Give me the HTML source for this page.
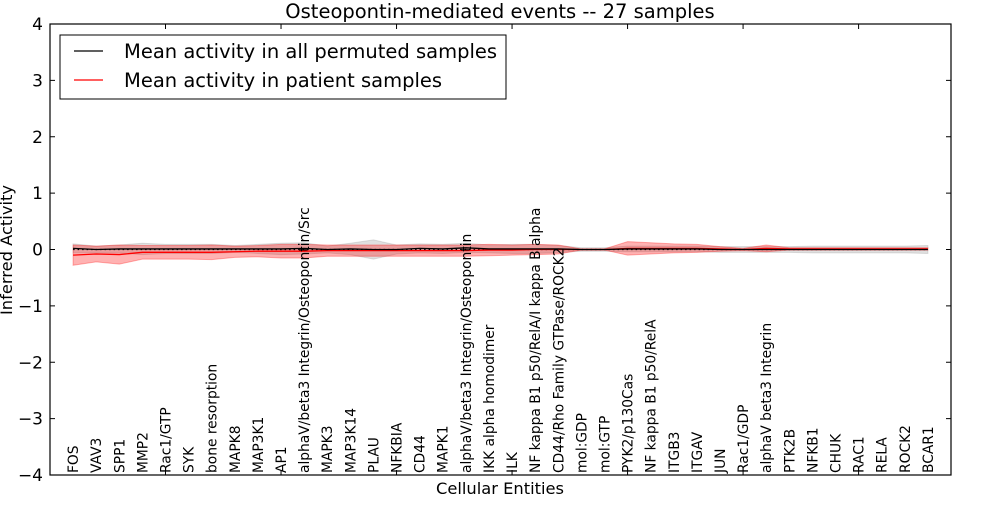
<!DOCTYPE html>
<html><head><meta charset="utf-8"><style>
body{margin:0;background:#fff;}
svg text{font-family:"DejaVu Sans","Liberation Sans",sans-serif;fill:#000;}
</style></head><body>
<svg id="chart" width="1000" height="500" xmlns="http://www.w3.org/2000/svg">
<rect width="1000" height="500" fill="#fff"/>
<g id="bands"></g><g id="lines"></g><g id="axes"></g>
</svg>
<script>
const categories=["FOS","VAV3","SPP1","MMP2","Rac1/GTP","SYK","bone resorption","MAPK8","MAP3K1","AP1","alphaV/beta3 Integrin/Osteopontin/Src","MAPK3","MAP3K14","PLAU","NFKBIA","CD44","MAPK1","alphaV/beta3 Integrin/Osteopontin","IKK alpha homodimer","ILK","NF kappa B1 p50/RelA/I kappa B alpha","CD44/Rho Family GTPase/ROCK2","mol:GDP","mol:GTP","PYK2/p130Cas","NF kappa B1 p50/RelA","ITGB3","ITGAV","JUN","Rac1/GDP","alphaV beta3 Integrin","PTK2B","NFKB1","CHUK","RAC1","RELA","ROCK2","BCAR1"];
const patientMean=[-0.1,-0.08,-0.09,-0.05,-0.05,-0.05,-0.05,-0.04,-0.03,-0.03,-0.03,-0.02,-0.02,-0.02,-0.02,-0.02,-0.02,-0.02,-0.01,-0.01,0,0,0,0,0.02,0.02,0.02,0.02,0.01,0,0.02,0.01,0.01,0.01,0.01,0.01,0.01,0.01];
const patientSpread=[0.18,0.14,0.17,0.12,0.12,0.12,0.13,0.1,0.1,0.12,0.12,0.1,0.1,0.1,0.1,0.1,0.1,0.1,0.1,0.09,0.09,0.08,0.01,0.01,0.12,0.1,0.08,0.07,0.04,0.02,0.06,0.02,0.02,0.02,0.02,0.02,0.02,0.02];
const permMean=[0.02,0,0.01,0.01,0.01,0.01,0.01,0.01,0.01,0.01,0.02,0,0.01,0,0,0.02,0.01,0.03,0.01,0.01,0.01,0.01,0,0,0.01,0.01,0.01,0.01,0,0,0,0,0,0,0,0,0,0];
const permSpread=[0.08,0.06,0.07,0.1,0.08,0.08,0.08,0.06,0.08,0.1,0.1,0.06,0.1,0.17,0.08,0.08,0.08,0.08,0.07,0.08,0.08,0.06,0.03,0.03,0.05,0.05,0.05,0.05,0.05,0.05,0.05,0.05,0.06,0.06,0.06,0.06,0.06,0.07];
const yTicks=[-4,-3,-2,-1,0,1,2,3,4];
const xTicks=[0,5,10,15,20,25,30,35];
const L=50,R=951,T=24,B=475;
const sx=v=>L+(v)*(R-L)/39;
const sy=v=>B-(v+4)*(B-T)/8;
const NS="http://www.w3.org/2000/svg";
function mk(tag,attrs,parent,txt){const e=document.createElementNS(NS,tag);for(const k in attrs)e.setAttribute(k,attrs[k]);if(txt!==undefined)e.textContent=txt;parent.appendChild(e);return e;}
const bands=document.getElementById('bands'),lines=document.getElementById('lines'),axes=document.getElementById('axes');
function band(mean,spr,fill,op,name){let up=[],dn=[];mean.forEach((m,i)=>{up.push(sx(i+1)+','+sy(m+spr[i]));dn.unshift(sx(i+1)+','+sy(m-spr[i]));});
const p=mk('polygon',{points:up.concat(dn).join(' '),fill:fill,'fill-opacity':op,stroke:fill,'stroke-opacity':op},bands);

}
band(permMean,permSpread,'#999',0.3,'permuted-band');
band(patientMean,patientSpread,'#f00',0.3,'patient-band');
function line(mean,col,name,dash){const pts=mean.map((m,i)=>sx(i+1)+','+sy(m)).join(' ');
const l=mk('polyline',{points:pts,fill:'none',stroke:col,'stroke-width':1.3},lines);
if(dash)l.setAttribute('stroke-dasharray','1.5,3');

}
const zeros=categories.map(()=>0);
line(zeros,'#000','zero-reference-line',true);
line(patientMean,'#f00','patient-mean-line');
line(permMean,'#000','permuted-mean-line');
const frame=mk('rect',{x:L,y:T,width:R-L,height:B-T,fill:'none',stroke:'#000','stroke-width':1.2},axes);


yTicks.forEach(v=>{const y=sy(v);mk('line',{x1:L,x2:L+5,y1:y,y2:y,stroke:'#000'},axes);mk('line',{x1:R,x2:R-5,y1:y,y2:y,stroke:'#000'},axes);
const t=mk('text',{x:L-7,y:y+6,'text-anchor':'end','font-size':17},axes,v<0?'\u2212'+(-v):String(v));

});
xTicks.forEach(v=>{const x=sx(v);mk('line',{x1:x,x2:x,y1:B,y2:B-5,stroke:'#000'},axes);mk('line',{x1:x,x2:x,y1:T,y2:T+5,stroke:'#000'},axes);});
categories.forEach((c,i)=>{const x=sx(i+1);
const t=mk('text',{transform:`translate(${x+5},${B-2}) rotate(-90)`,'font-size':13.8},axes,c);

});
const title=mk('text',{x:500,y:18,'text-anchor':'middle','font-size':19.5},axes,'Osteopontin-mediated events -- 27 samples');


const xt=mk('text',{x:500,y:494,'text-anchor':'middle','font-size':16.3},axes,'Cellular Entities');


const yt=mk('text',{transform:'translate(12,250) rotate(-90)','text-anchor':'middle','font-size':16.3},axes,'Inferred Activity');


const lg=mk('g',{},axes);


mk('rect',{x:60,y:35,width:446,height:64,fill:'#fff',stroke:'#000','stroke-width':1},lg);
mk('line',{x1:74,x2:103,y1:51,y2:51,stroke:'#000','stroke-width':1.3},lg);
mk('line',{x1:74,x2:103,y1:80,y2:80,stroke:'#f00','stroke-width':1.3},lg);
const l1=mk('text',{x:124,y:58,'font-size':19.5},lg,'Mean activity in all permuted samples');


const l2=mk('text',{x:124,y:87,'font-size':19.5},lg,'Mean activity in patient samples');


</script>
</body></html>
